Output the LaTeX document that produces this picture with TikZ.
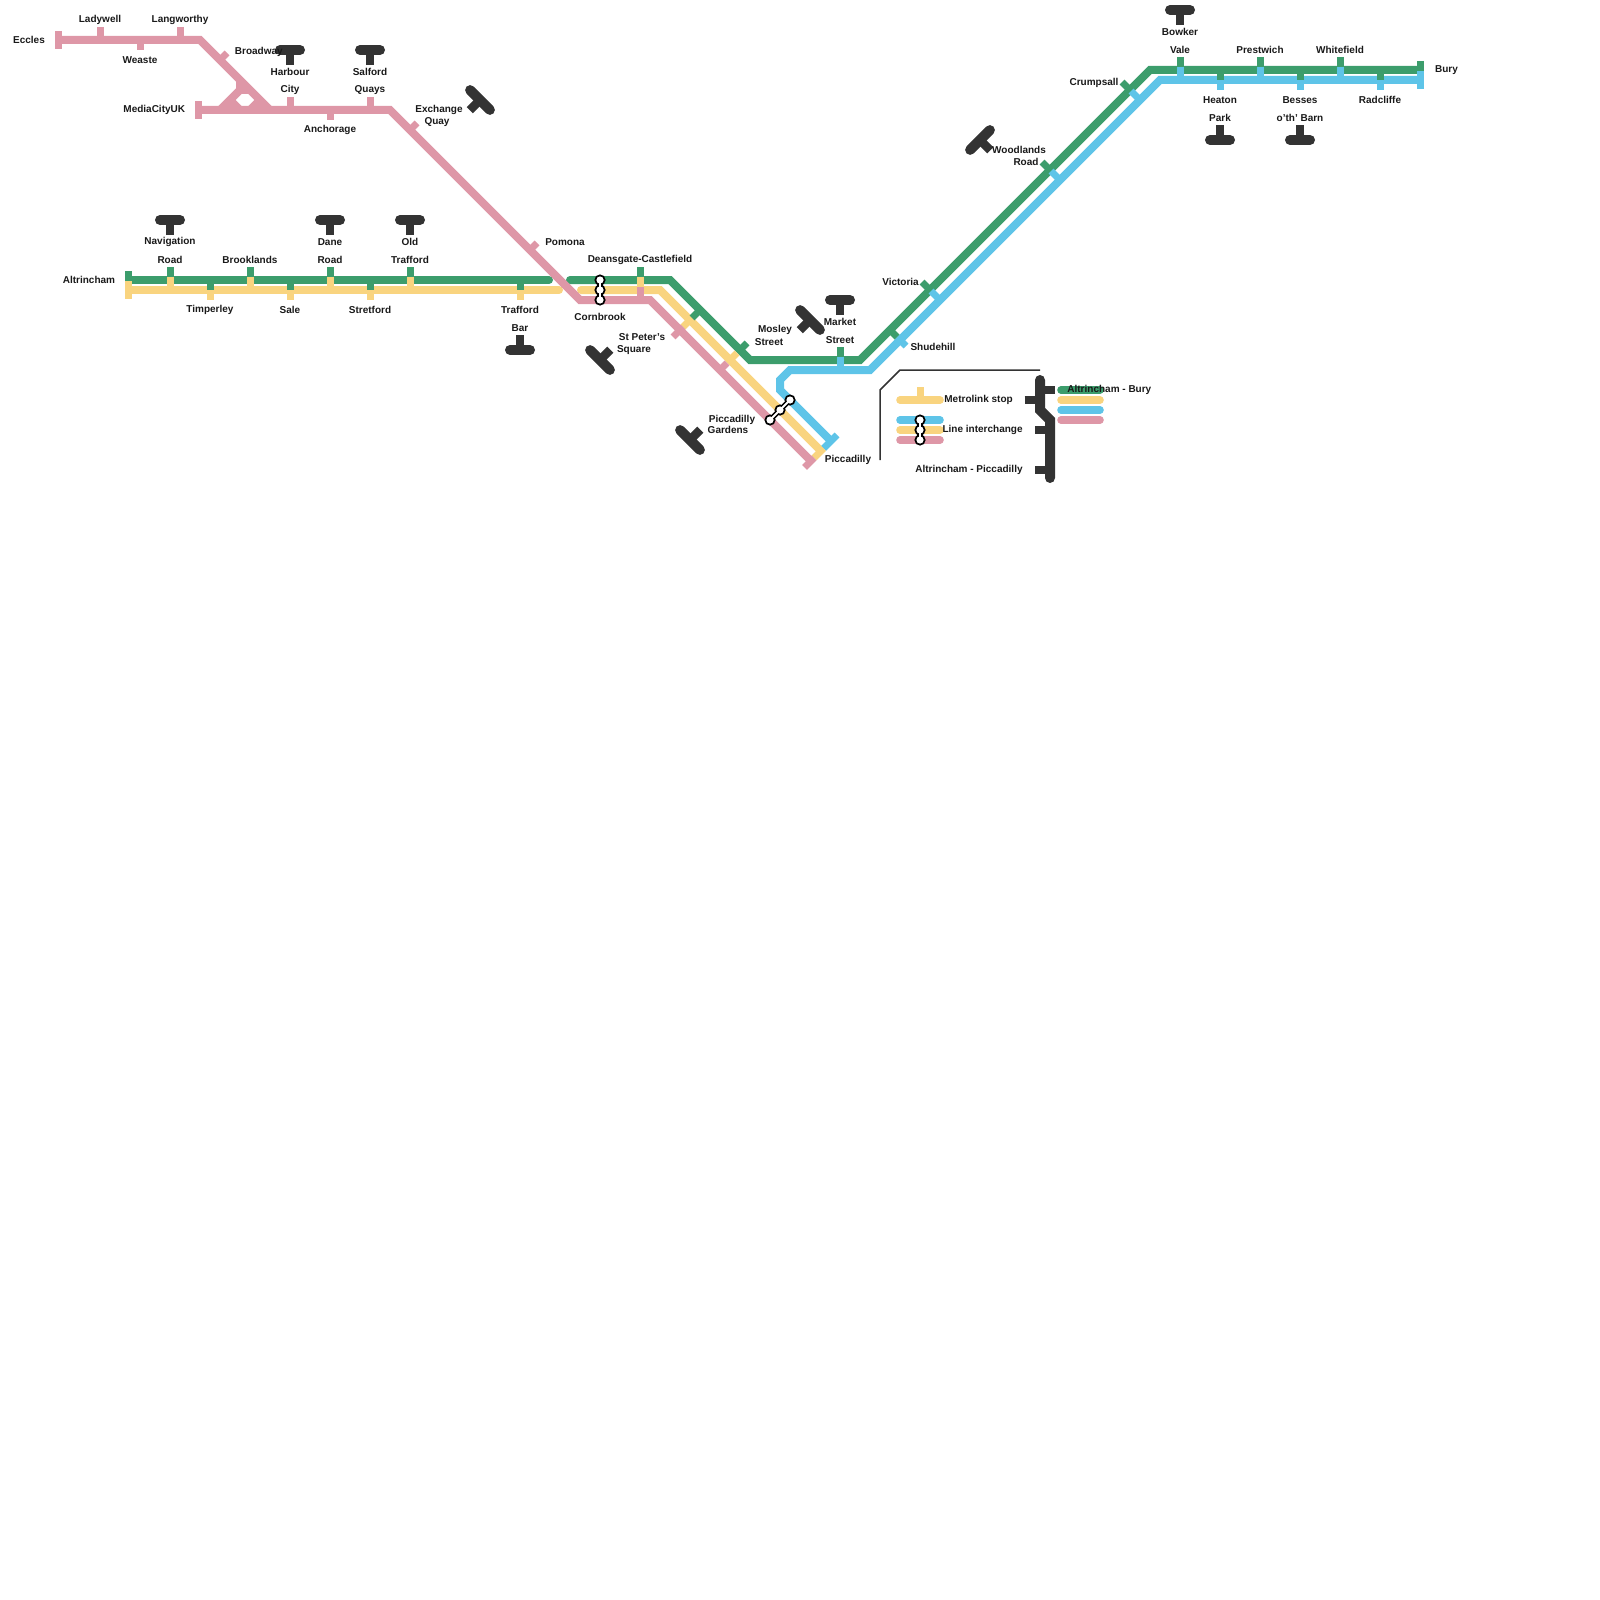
\documentclass[tikz,border=0pt]{standalone}
\usepackage{fontspec}
\setmainfont{Liberation Sans}
\definecolor{pinkl}{HTML}{DE97A7}
\definecolor{greenl}{HTML}{3C9D6C}
\definecolor{yellowl}{HTML}{F9D47F}
\definecolor{bluel}{HTML}{5EC4E8}
\definecolor{darkl}{HTML}{333333}
\newcommand{\interchange}[3]{%
  \draw[black,line width=2.6pt] (#1) -- (#2) -- (#3);
  \fill[black] (#1) circle (5.6) (#2) circle (5.6) (#3) circle (5.6);
  \draw[white,line width=1pt] (#1) -- (#2) -- (#3);
  \fill[white] (#1) circle (3.6) (#2) circle (3.6) (#3) circle (3.6);}
\begin{document}
\begin{tikzpicture}[x=.5pt,y=-.5pt,
    pinkline/.style={pinkl,line width=4pt},
    greenline/.style={greenl,line width=4pt},
    yellowline/.style={yellowl,line width=4pt},
    blueline/.style={bluel,line width=4pt},
    pinkstop/.style={pinkl,line width=3.5pt},
    greenstop/.style={greenl,line width=3.5pt},
    yellowstop/.style={yellowl,line width=3.5pt},
    bluestop/.style={bluel,line width=3.5pt},
    key/.style={line width=3.8pt,line cap=round},
    tramline/.style={darkl,line width=5pt,line cap=round},
    tramstem/.style={darkl,line width=4.4pt},
    keystem/.style={darkl,line width=4pt},
    tram/.pic={\draw[tramline] (-10,0) -- (10,0); \draw[tramstem] (0,0) -- (0,15);},
    tramd/.pic={\draw[tramline] (-14,0) -- (14,0); \draw[tramstem] (0,0) -- (0,14.5);},
    stn/.style={font=\bfseries\fontsize{5}{6}\selectfont,text=black!90,inner sep=0pt,yshift=-.5pt}]
  \useasboundingbox (0,0) rectangle (1600,1600);
  % line corners
  \coordinate (ecc) at (58.5,40);
  \coordinate (brd) at (200,40);
  \coordinate (jct) at (270,110);
  \coordinate (med) at (198.5,110);
  \coordinate (exq) at (390,110);
  \coordinate (crn) at (580,300);
  \coordinate (pk1) at (650,300);
  \coordinate (pkend) at (811,461);
  \coordinate (alt) at (128.5,280);
  \coordinate (alty) at (128.5,290);
  \coordinate (gr1) at (549,280);
  \coordinate (gr2) at (570,280);
  \coordinate (gr3) at (670,280);
  \coordinate (gr4) at (750,360);
  \coordinate (gr5) at (860,360);
  \coordinate (gr6) at (1150,70);
  \coordinate (bury) at (1420,70);
  \coordinate (ye1) at (559,290);
  \coordinate (ye2) at (581,290);
  \coordinate (ye3) at (660,290);
  \coordinate (yeend) at (821,451);
  \coordinate (bl1) at (831,441);
  \coordinate (bl2) at (780,390);
  \coordinate (bl3) at (780,380);
  \coordinate (bl4) at (790,370);
  \coordinate (bl5) at (870,370);
  \coordinate (bl6) at (1160,80);
  \coordinate (bl7) at (1420,80);
  % lines
  \draw[blueline] (bl1) -- (bl2) -- (bl3) -- (bl4) -- (bl5) -- (bl6) -- (bl7);
  \draw[yellowline] (alty) -- (ye1);
  \draw[yellowline,line cap=round] (ye1) -- ++(-20,0);
  \draw[yellowline,line cap=round] (ye2) -- ++(20,0);
  \draw[yellowline] (ye2) -- (ye3) -- (yeend);
  \draw[greenline] (alt) -- (gr1);
  \draw[greenline,line cap=round] (gr1) -- ++(-20,0);
  \draw[greenline,line cap=round] (gr2) -- ++(20,0);
  \draw[greenline] (gr2) -- (gr3) -- (gr4) -- (gr5) -- (gr6) -- (bury);
  \draw[pinkline] (ecc) -- (brd) -- (jct);
  \draw[pinkline] (med) -- (exq) -- (crn) -- (pk1) -- (pkend);
  \draw[pinkline] (240,80) -- (240,90) -- (220,110);
  \draw[pinkline] (240,90) -- (250,90);
  \draw[pinkline] (230,100) -- (240,110);
  \draw[pinkline] (250,110) -- (260,100);
  % blue stops
  \draw[bluestop] (1180,67) -- (1180,80);
  \draw[bluestop] (1260,67) -- (1260,80);
  \draw[bluestop] (1340,67) -- (1340,80);
  \draw[bluestop] (1220,80) -- (1220,90);
  \draw[bluestop] (1300,80) -- (1300,90);
  \draw[bluestop] (1380,80) -- (1380,90);
  \draw[bluestop] (1420,71) -- (1420,89);
  \draw[bluestop] (840,357) -- (840,370);
  \draw[bluestop] (1131,91) -- (1140,100);
  \draw[bluestop] (1051,171) -- (1060,180);
  \draw[bluestop] (931,291) -- (940,300);
  \draw[bluestop] (897,337) -- (906,346);
  \draw[bluestop] (823.5,448.5) -- (837,435);
  % yellow stops
  \draw[yellowstop] (170,277) -- (170,290);
  \draw[yellowstop] (250,277) -- (250,290);
  \draw[yellowstop] (330,277) -- (330,290);
  \draw[yellowstop] (410,277) -- (410,290);
  \draw[yellowstop] (210,290) -- (210,300);
  \draw[yellowstop] (290,290) -- (290,300);
  \draw[yellowstop] (370,290) -- (370,300);
  \draw[yellowstop] (520,290) -- (520,300);
  \draw[yellowstop] (128.5,281) -- (128.5,299);
  \draw[yellowstop] (640,277) -- (640,287);
  \draw[yellowstop] (692,318) -- (683,327);
  \draw[yellowstop] (730,360) -- (737,353);
  \draw[yellowstop] (814,458) -- (823.5,448.5);
  % green stops
  \draw[greenstop] (170,267) -- (170,277);
  \draw[greenstop] (250,267) -- (250,277);
  \draw[greenstop] (330,267) -- (330,277);
  \draw[greenstop] (410,267) -- (410,277);
  \draw[greenstop] (210,280) -- (210,290);
  \draw[greenstop] (290,280) -- (290,290);
  \draw[greenstop] (370,280) -- (370,290);
  \draw[greenstop] (520,280) -- (520,290);
  \draw[greenstop] (128.5,271) -- (128.5,281);
  \draw[greenstop] (640,267) -- (640,277);
  \draw[greenstop] (700,310) -- (692,318);
  \draw[greenstop] (740,350) -- (747,343);
  \draw[greenstop] (840,347) -- (840,357);
  \draw[greenstop] (890,330) -- (897,337);
  \draw[greenstop] (930,290) -- (922,282);
  \draw[greenstop] (1050,170) -- (1042,162);
  \draw[greenstop] (1130,90) -- (1122,82);
  \draw[greenstop] (1180,57) -- (1180,67);
  \draw[greenstop] (1260,57) -- (1260,67);
  \draw[greenstop] (1340,57) -- (1340,67);
  \draw[greenstop] (1220,70) -- (1220,80);
  \draw[greenstop] (1300,70) -- (1300,80);
  \draw[greenstop] (1380,70) -- (1380,80);
  \draw[greenstop] (1420,61) -- (1420,71);
  % pink stops
  \draw[pinkstop] (58.5,31) -- (58.5,49);
  \draw[pinkstop] (198.5,101) -- (198.5,119);
  \draw[pinkstop] (100,27) -- (100,40);
  \draw[pinkstop] (180,27) -- (180,40);
  \draw[pinkstop] (140,40) -- (140,50);
  \draw[pinkstop] (220,60) -- (227,53);
  \draw[pinkstop] (290,97) -- (290,110);
  \draw[pinkstop] (370,97) -- (370,110);
  \draw[pinkstop] (330,110) -- (330,120);
  \draw[pinkstop] (410,130) -- (417,123);
  \draw[pinkstop] (530,250) -- (537,243);
  \draw[pinkstop] (640,287) -- (640,300);
  \draw[pinkstop] (683,327) -- (673,337);
  \draw[pinkstop] (720,370) -- (727,363);
  \draw[pinkstop] (804.5,467.5) -- (814,458);
  % trams
  \pic at (290,50) {tram};
  \pic at (370,50) {tram};
  \pic at (170,220) {tram};
  \pic at (330,220) {tram};
  \pic at (410,220) {tram};
  \pic at (840,300) {tram};
  \pic at (1180,10) {tram};
  \pic[rotate=180] at (520,350) {tram};
  \pic[rotate=180] at (1220,140) {tram};
  \pic[rotate=180] at (1300,140) {tram};
  \pic[rotate=-45] at (480,100) {tramd};
  \pic[rotate=135] at (600,360) {tramd};
  \pic[rotate=-45] at (810,320) {tramd};
  \pic[rotate=135] at (690,440) {tramd};
  \pic[rotate=45] at (980,140) {tramd};
  % interchanges
  \coordinate (cb1) at (600,280);
  \coordinate (cb2) at (600,290);
  \coordinate (cb3) at (600,300);
  \interchange{cb1}{cb2}{cb3}
  \coordinate (pg1) at (790,400);
  \coordinate (pg2) at (780,410);
  \coordinate (pg3) at (770,420);
  \interchange{pg1}{pg2}{pg3}
  % key
  \coordinate (kb1) at (880,460);
  \coordinate (kb2) at (880,390);
  \coordinate (kb3) at (900,370);
  \coordinate (kb4) at (1040,370);
  \draw[darkl,line width=.75pt] (kb1) -- (kb2) -- (kb3) -- (kb4);
  \draw[yellowl,key] (900,400) -- (940,400);
  \draw[yellowstop] (920,387) -- (920,400);
  \draw[bluel,key] (900,420) -- (940,420);
  \draw[yellowl,key] (900,430) -- (940,430);
  \draw[pinkl,key] (900,440) -- (940,440);
  \coordinate (ki1) at (920,420);
  \coordinate (ki2) at (920,430);
  \coordinate (ki3) at (920,440);
  \interchange{ki1}{ki2}{ki3}
  \draw[greenl,key] (1061,390) -- (1100,390);
  \draw[yellowl,key] (1061,400) -- (1100,400);
  \draw[bluel,key] (1061,410) -- (1100,410);
  \draw[pinkl,key] (1061,420) -- (1100,420);
  \draw[darkl,line width=5pt,line cap=round] (1040,380) -- (1040,410) -- (1050,420) -- (1050,478);
  \draw[keystem] (1040,390) -- (1055,390);
  \draw[keystem] (1024.5,400) -- (1040,400);
  \draw[keystem] (1035,430) -- (1050,430);
  \draw[keystem] (1035,470) -- (1050,470);
  \node[stn,anchor=west] (stop) at (944,399) {Metrolink stop};
  \node[stn,anchor=east] (change) at (1023,429) {Line interchange};
  \node[stn,anchor=east] (altpic) at (1023,469) {Altrincham - Piccadilly};
  \node[stn,anchor=west] (altbury) at (1067,389) {Altrincham - Bury};
  % labels
  \node[stn] (eccles) at (29,39) {Eccles};
  \node[stn] (ladywell) at (100,19) {Ladywell};
  \node[stn] (langworthy) at (180,19) {Langworthy};
  \node[stn] (weaste) at (140,59) {Weaste};
  \node[stn,anchor=west] (broadway) at (234.5,51) {Broadway};
  \node[stn] (harbour) at (290,71) {Harbour};
  \node[stn] (city) at (290,89) {City};
  \node[stn] (salford) at (370,71) {Salford};
  \node[stn] (quays) at (370,89) {Quays};
  \node[stn,anchor=east] (mediacity) at (185.5,109) {MediaCityUK};
  \node[stn] (anchorage) at (330,129) {Anchorage};
  \node[stn] (exchange) at (439,109) {Exchange};
  \node[stn] (quay) at (437,121) {Quay};
  \node[stn] (altrincham) at (89,279) {Altrincham};
  \node[stn] (navigation) at (170,241) {Navigation};
  \node[stn] (navroad) at (170,259) {Road};
  \node[stn] (brooklands) at (250,259) {Brooklands};
  \node[stn] (dane) at (330,241) {Dane};
  \node[stn] (daneroad) at (330,259) {Road};
  \node[stn] (old) at (410,241) {Old};
  \node[stn] (trafford) at (410,259) {Trafford};
  \node[stn] (timperley) at (210,309) {Timperley};
  \node[stn] (sale) at (290,309) {Sale};
  \node[stn] (stretford) at (370,309) {Stretford};
  \node[stn] (traffbar) at (520,309) {Trafford};
  \node[stn] (bar) at (520,327) {Bar};
  \node[stn] (pomona) at (565,241) {Pomona};
  \node[stn] (deansgate) at (640,259) {Deansgate-Castlefield};
  \node[stn] (cornbrook) at (600,316) {Cornbrook};
  \node[stn] (peters) at (642,336) {St Peter's};
  \node[stn] (square) at (634,349) {Square};
  \node[stn] (mosley) at (775,329) {Mosley};
  \node[stn] (mosstreet) at (769,341) {Street};
  \node[stn] (market) at (840,321) {Market};
  \node[stn] (markstreet) at (840,339) {Street};
  \node[stn] (picgardens) at (732,419) {Piccadilly};
  \node[stn] (gardens) at (728,429) {Gardens};
  \node[stn] (piccadilly) at (848,459) {Piccadilly};
  \node[stn] (victoria) at (900.5,281) {Victoria};
  \node[stn] (shudehill) at (933,346) {Shudehill};
  \node[stn] (woodlands) at (1019,149) {Woodlands};
  \node[stn] (woodroad) at (1026,161) {Road};
  \node[stn] (crumpsall) at (1094,82) {Crumpsall};
  \node[stn] (bowker) at (1180,31) {Bowker};
  \node[stn] (vale) at (1180,49) {Vale};
  \node[stn] (prestwich) at (1260,49) {Prestwich};
  \node[stn] (whitefield) at (1340,49) {Whitefield};
  \node[stn] (heaton) at (1220,99) {Heaton};
  \node[stn] (park) at (1220,117) {Park};
  \node[stn] (besses) at (1300,99) {Besses};
  \node[stn] (barn) at (1300,117) {o'th' Barn};
  \node[stn] (radcliffe) at (1380,99) {Radcliffe};
  \node[stn] (buryname) at (1446.5,69) {Bury};
\end{tikzpicture}
\end{document}
